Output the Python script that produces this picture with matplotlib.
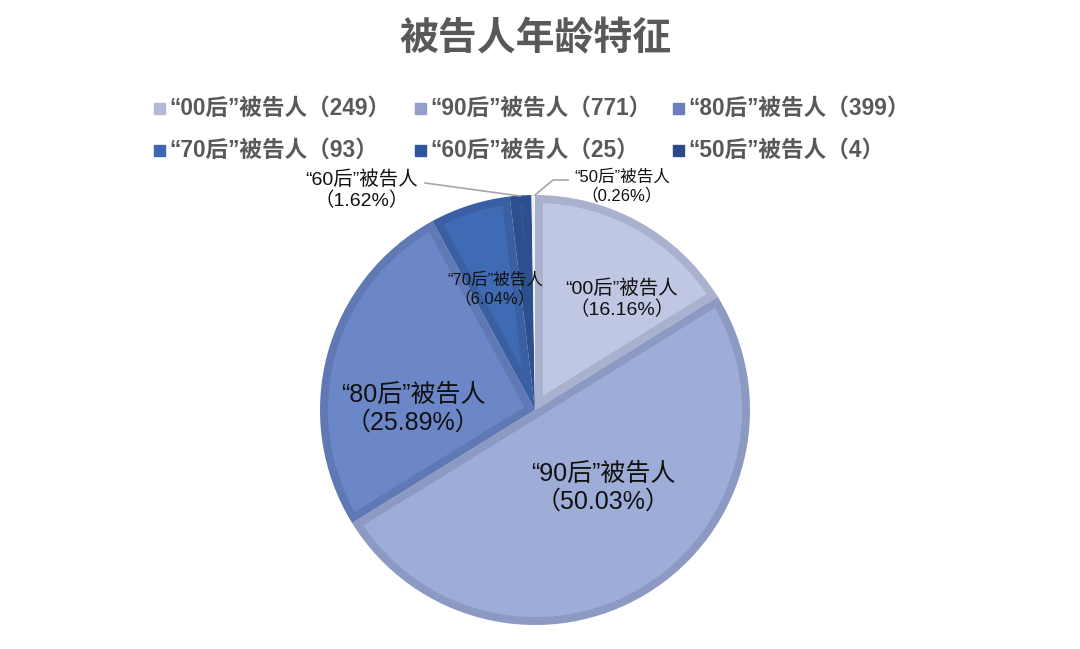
import matplotlib.pyplot as plt
from matplotlib.patches import Wedge, Polygon
import numpy as np

plt.rcParams['font.family'] = ['Liberation Sans', 'Noto Sans CJK SC', 'DejaVu Sans']

# 数据
groups = ['“00后”被告人', '“90后”被告人', '“80后”被告人', '“70后”被告人', '“60后”被告人', '“50后”被告人']
counts = [249, 771, 399, 93, 25, 4]
percents = ['16.16%', '50.03%', '25.89%', '6.04%', '1.62%', '0.26%']

fills = ['#C0C7E3', '#9EADD7', '#6C87C8', '#3F6AB4', '#2F5597', '#2E4A86']
borders = ['#A9B1CF', '#8C99C3', '#6079B4', '#3A5FA3', '#2C4F8D', '#EDEFF5']
legend_colors = ['#B4BAD6', '#949FCB', '#6A7EC0', '#3F64B0', '#2E55A0', '#2C4A86']

W, H = 1080, 649
fig = plt.figure(figsize=(W / 100, H / 100), dpi=100)
cx, cy, r = 535, 410, 215
ax = fig.add_axes([(cx - r) / W, (H - cy - r) / H, 2 * r / W, 2 * r / H])
ax.set_xlim(-1, 1)
ax.set_ylim(-1, 1)
ax.set_aspect('equal')
ax.axis('off')

# углы секторов: от 12 часов по часовой стрелке
frac = np.array(counts) / sum(counts)
ends = 90 - 360 * np.cumsum(frac)
starts = np.concatenate([[90], ends[:-1]])

d = 8 / r          # толщина внутренней рамки
rho = 1 - d
for a_start, a_end, fc, bc in zip(starts, ends, fills, borders):
    a1, a2 = a_end, a_start   # против часовой
    ax.add_patch(Wedge((0, 0), 1, a1, a2, facecolor=bc, edgecolor='none'))
    half = np.radians(a2 - a1) / 2
    mid = np.radians(a1) + half
    s = d / np.sin(half)
    if s + 0.05 > rho:
        continue
    p0 = s * np.array([np.cos(mid), np.sin(mid)])
    pts = [p0]
    angs = []
    for a in (a1, a2):
        u = np.array([np.cos(np.radians(a)), np.sin(np.radians(a))])
        b = p0 @ u
        t = -b + np.sqrt(b * b - p0 @ p0 + rho * rho)
        q = p0 + t * u
        angs.append(np.arctan2(q[1], q[0]))
    t1, t2 = angs
    if t2 < t1:
        t2 += 2 * np.pi
    arc = np.linspace(t1, t2, 200)
    pts += list(np.column_stack([rho * np.cos(arc), rho * np.sin(arc)]))
    ax.add_patch(Polygon(pts, closed=True, facecolor=fc, edgecolor='none'))


def px(x, y):
    return ((x - cx) / r, (cy - y) / r)


# подписи секторов
label_pos = [(622, 299, 14), (603, 488, 18), (413, 409, 18), (495, 289, 12),
             (362, 190, 14), (622, 186, 12)]
for g, p, (x, y, fs) in zip(groups, percents, label_pos):
    ax.text(*px(x, y), g + '\n（' + p + '）', ha='center', va='center',
            fontsize=fs, color='#111111', linespacing=1.2, clip_on=False)

# выноски
x1, y1 = px(425, 183)
x2, y2 = px(520, 196)
ax.plot([x1, x2], [y1, y2], color='#A6A6A6', lw=1.2, clip_on=False)
pts = [px(568, 180), px(553, 180), px(535, 195)]
ax.plot([p[0] for p in pts], [p[1] for p in pts], color='#A6A6A6', lw=1.2, clip_on=False)

fig.text(535 / W, 1 - 40 / H, '被告人年龄特征', ha='center', va='center',
         fontsize=28, fontweight='bold', color='#595959')

# легенда
leg_x = [154, 415, 673]
leg_y = [108, 150]
for i, (g, c, lc) in enumerate(zip(groups, counts, legend_colors)):
    x = leg_x[i % 3]
    y = leg_y[i // 3]
    fig.patches.append(plt.Rectangle((x / W, 1 - (y + 5.5) / H), 11 / W, 11 / H,
                                     transform=fig.transFigure, color=lc))
    fig.text((x + 15) / W, 1 - y / H, g + '（' + str(c) + '）', ha='left', va='center',
             fontsize=16.3, fontweight='bold', color='#595959')

fig.savefig('out.png', dpi=100)
